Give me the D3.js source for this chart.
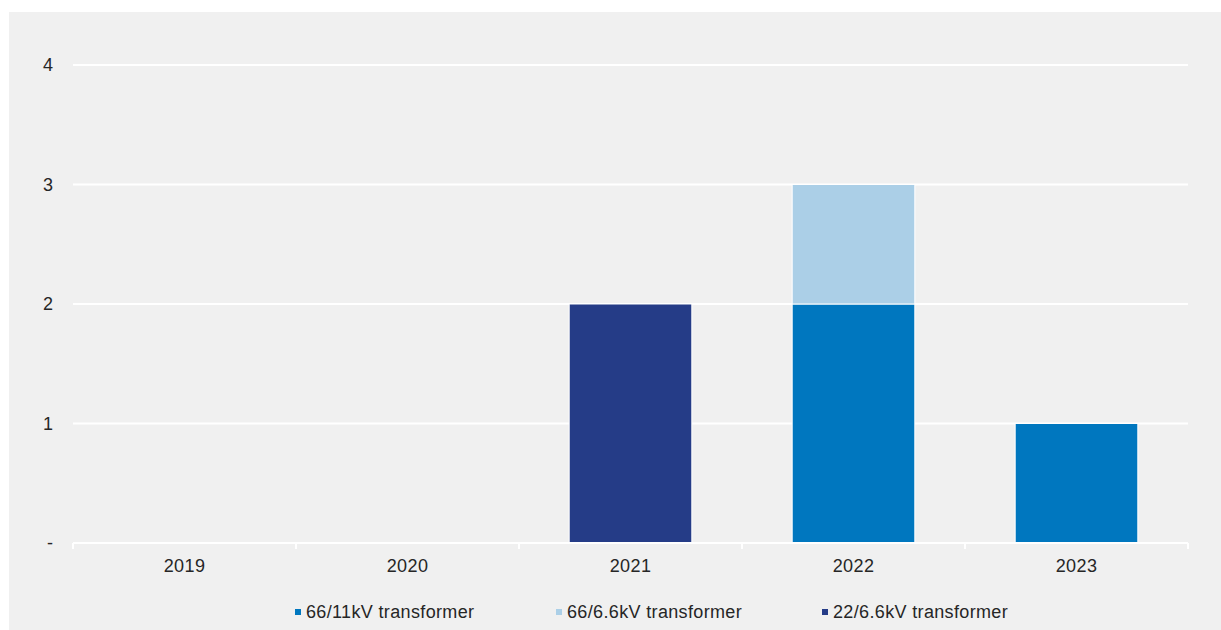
<!DOCTYPE html>
<html><head><meta charset="utf-8">
<script src="https://cdn.jsdelivr.net/npm/d3@7"></script>
<style>body{margin:0;background:#fff;}svg{display:block;}</style>
</head><body>
<svg id="c" width="1221" height="630"></svg>
<script>
const years = ["2019","2020","2021","2022","2023"];
const seriesNames = ["66/11kV transformer","66/6.6kV transformer","22/6.6kV transformer"];
const s66_11 = [0,0,0,2,1];
const s66_66 = [0,0,0,1,0];
const s22_66 = [0,0,2,0,0];
const colors = ["#0077bf","#abcfe7","#253c87"];
const yTicks = [0,1,2,3,4];

const svg = d3.select("#c");
svg.append("rect").attr("x",9).attr("y",12).attr("width",1212).attr("height",618).attr("fill","#f0f0f0");

const x = d3.scaleBand().domain(years).range([73,1188]).paddingInner(0.45).paddingOuter(0.225);
const y = d3.scaleLinear().domain([0,4]).range([543,65]);

const font = "Liberation Sans, Arial, sans-serif";
// gridlines
svg.append("g").selectAll("line").data(yTicks.filter(d=>d>0)).join("line")
  .attr("x1",73).attr("x2",1188).attr("y1",d=>y(d)).attr("y2",d=>y(d))
  .attr("stroke","#fff").attr("stroke-width",2);

// y labels
svg.append("g").selectAll("text").data(yTicks).join("text")
  .attr("x",53).attr("y",d=>y(d)).attr("dy","0.36em").attr("text-anchor","end")
  .attr("font-family",font).attr("font-size",18).attr("fill","#262626")
  .text(d=>d===0?"-":d);

// stacked bars
const table = years.map((yr,i)=>({year:yr, a:s66_11[i], b:s66_66[i], c:s22_66[i]}));
const stack = d3.stack().keys(["a","b","c"])(table);
svg.append("g").selectAll("g").data(stack).join("g").attr("fill",(d,i)=>colors[i])
  .selectAll("rect").data(d=>d.filter(p=>p[1]-p[0]>0)).join("rect")
  .attr("x",d=>x(d.data.year)).attr("width",x.bandwidth())
  .attr("y",d=>y(d[1])).attr("height",d=>y(d[0])-y(d[1]))
  .attr("stroke","#fff").attr("stroke-width",1);

// x axis
const xa = svg.append("g");
xa.append("line").attr("x1",73).attr("x2",1188).attr("y1",543).attr("y2",543).attr("stroke","#fff").attr("stroke-width",2);
const step = x.step();
const bounds = d3.range(years.length+1).map(i=>73+i*step);
xa.selectAll("line.t").data(bounds).join("line").attr("class","t")
  .attr("x1",d=>d).attr("x2",d=>d).attr("y1",543).attr("y2",549).attr("stroke","#fff").attr("stroke-width",2);
xa.selectAll("text").data(years).join("text")
  .attr("x",d=>x(d)+x.bandwidth()/2).attr("y",572).attr("text-anchor","middle")
  .attr("font-family",font).attr("font-size",18).attr("letter-spacing",0.4).attr("fill","#262626").text(d=>d);

// legend
const legX = [295,556,822];
const lg = svg.append("g").selectAll("g").data(seriesNames).join("g")
  .attr("transform",(d,i)=>`translate(${legX[i]},612)`);
lg.append("rect").attr("x",0).attr("y",-3).attr("width",6).attr("height",6).attr("fill",(d,i)=>colors[i]);
lg.append("text").attr("x",11).attr("y",0).attr("dy","0.36em")
  .attr("font-family",font).attr("font-size",18).attr("letter-spacing",0.35).attr("fill","#262626").text(d=>d);
</script>
</body></html>
